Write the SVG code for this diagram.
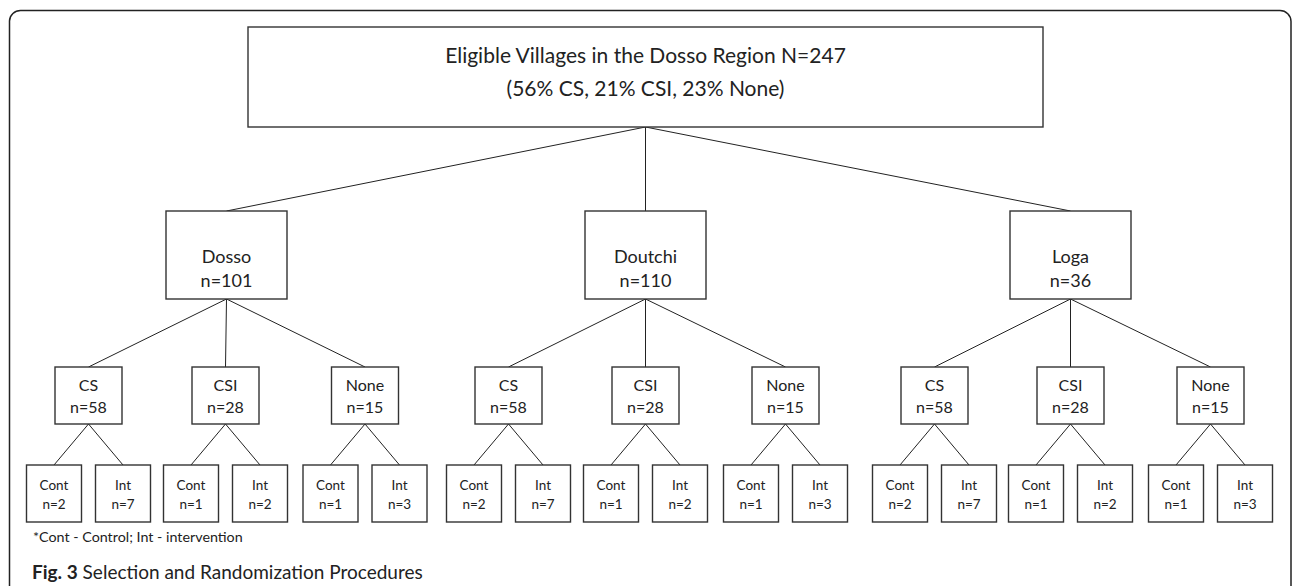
<svg xmlns="http://www.w3.org/2000/svg" width="1292" height="586" viewBox="0 0 1292 586">
<style>
.box{fill:#fff;stroke:#333;stroke-width:1.4}
.ln{stroke:#222;stroke-width:1;fill:none}
text{font-family:Lato,"Liberation Sans",sans-serif;fill:#222;text-anchor:middle}
.t1{font-size:21px}
.t2{font-size:18px}
.t3{font-size:16px}
.t4{font-size:13.5px}
</style>
<rect width="1292" height="586" fill="#fff"/>
<path d="M9.5,586 V21 A11,11 0 0 1 20.5,10.5 H1280 A11,11 0 0 1 1291,21.5 V586" fill="none" stroke="#222" stroke-width="1.5"/>
<g id="connectors" class="ln">
<path d="M645.5,127 L226.5,211 M645.5,127 L645.5,211 M645.5,127 L1070.5,211"/>
<path d="M226.5,299 L88.5,367 M226.5,299 L225.5,367 M226.5,299 L365,367"/>
<path d="M645.5,299 L508.5,367 M645.5,299 L645.5,367 M645.5,299 L785.5,367"/>
<path d="M1070.5,299 L934.5,367 M1070.5,299 L1070.5,367 M1070.5,299 L1210.5,367"/>
<path d="M88.5,424 L54,465 M88.5,424 L123,465 M225.5,424 L191,465 M225.5,424 L260,465 M365,424 L330.5,465 M365,424 L399.5,465"/>
<path d="M508.5,424 L474,465 M508.5,424 L543,465 M645.5,424 L611,465 M645.5,424 L680,465 M785.5,424 L751,465 M785.5,424 L820,465"/>
<path d="M934.5,424 L900,465 M934.5,424 L969,465 M1070.5,424 L1036,465 M1070.5,424 L1105,465 M1210.5,424 L1176,465 M1210.5,424 L1245,465"/>
</g>
<g id="root"><rect class="box" x="248" y="27" width="795" height="100"/>
<text class="t1" x="645.5" y="63">Eligible Villages in the Dosso Region N=247</text>
<text class="t1" x="645.5" y="96">(56% CS, 21% CSI, 23% None)</text></g>
<g id="dosso"><rect class="box" x="166" y="211" width="121" height="88"/><text class="t2" x="226.5" y="263">Dosso</text><text class="t2" x="226.5" y="287">n=101</text></g>
<g id="doutchi"><rect class="box" x="585" y="211" width="121" height="88"/><text class="t2" x="645.5" y="263">Doutchi</text><text class="t2" x="645.5" y="287">n=110</text></g>
<g id="loga"><rect class="box" x="1010" y="211" width="121" height="88"/><text class="t2" x="1070.5" y="263">Loga</text><text class="t2" x="1070.5" y="287">n=36</text></g>

<g id="dosso-cs"><rect class="box" x="55" y="367" width="67" height="57"/><text class="t3" x="88.5" y="391">CS</text><text class="t3" x="88.5" y="413">n=58</text></g>
<g id="dosso-csi"><rect class="box" x="192" y="367" width="67" height="57"/><text class="t3" x="225.5" y="391">CSI</text><text class="t3" x="225.5" y="413">n=28</text></g>
<g id="dosso-none"><rect class="box" x="331.5" y="367" width="67" height="57"/><text class="t3" x="365" y="391">None</text><text class="t3" x="365" y="413">n=15</text></g>
<g id="doutchi-cs"><rect class="box" x="475" y="367" width="67" height="57"/><text class="t3" x="508.5" y="391">CS</text><text class="t3" x="508.5" y="413">n=58</text></g>
<g id="doutchi-csi"><rect class="box" x="612" y="367" width="67" height="57"/><text class="t3" x="645.5" y="391">CSI</text><text class="t3" x="645.5" y="413">n=28</text></g>
<g id="doutchi-none"><rect class="box" x="752" y="367" width="67" height="57"/><text class="t3" x="785.5" y="391">None</text><text class="t3" x="785.5" y="413">n=15</text></g>
<g id="loga-cs"><rect class="box" x="901" y="367" width="67" height="57"/><text class="t3" x="934.5" y="391">CS</text><text class="t3" x="934.5" y="413">n=58</text></g>
<g id="loga-csi"><rect class="box" x="1037" y="367" width="67" height="57"/><text class="t3" x="1070.5" y="391">CSI</text><text class="t3" x="1070.5" y="413">n=28</text></g>
<g id="loga-none"><rect class="box" x="1177" y="367" width="67" height="57"/><text class="t3" x="1210.5" y="391">None</text><text class="t3" x="1210.5" y="413">n=15</text></g>

<g id="dosso-cs-cont"><rect class="box" x="26.5" y="465" width="55" height="57"/><text class="t4" x="54" y="490">Cont</text><text class="t4" x="54" y="509">n=2</text></g>
<g id="dosso-cs-int"><rect class="box" x="95.5" y="465" width="55" height="57"/><text class="t4" x="123" y="490">Int</text><text class="t4" x="123" y="509">n=7</text></g>
<g id="dosso-csi-cont"><rect class="box" x="163.5" y="465" width="55" height="57"/><text class="t4" x="191" y="490">Cont</text><text class="t4" x="191" y="509">n=1</text></g>
<g id="dosso-csi-int"><rect class="box" x="232.5" y="465" width="55" height="57"/><text class="t4" x="260" y="490">Int</text><text class="t4" x="260" y="509">n=2</text></g>
<g id="dosso-none-cont"><rect class="box" x="303" y="465" width="55" height="57"/><text class="t4" x="330.5" y="490">Cont</text><text class="t4" x="330.5" y="509">n=1</text></g>
<g id="dosso-none-int"><rect class="box" x="372" y="465" width="55" height="57"/><text class="t4" x="399.5" y="490">Int</text><text class="t4" x="399.5" y="509">n=3</text></g>

<g id="doutchi-cs-cont"><rect class="box" x="446.5" y="465" width="55" height="57"/><text class="t4" x="474" y="490">Cont</text><text class="t4" x="474" y="509">n=2</text></g>
<g id="doutchi-cs-int"><rect class="box" x="515.5" y="465" width="55" height="57"/><text class="t4" x="543" y="490">Int</text><text class="t4" x="543" y="509">n=7</text></g>
<g id="doutchi-csi-cont"><rect class="box" x="583.5" y="465" width="55" height="57"/><text class="t4" x="611" y="490">Cont</text><text class="t4" x="611" y="509">n=1</text></g>
<g id="doutchi-csi-int"><rect class="box" x="652.5" y="465" width="55" height="57"/><text class="t4" x="680" y="490">Int</text><text class="t4" x="680" y="509">n=2</text></g>
<g id="doutchi-none-cont"><rect class="box" x="723.5" y="465" width="55" height="57"/><text class="t4" x="751" y="490">Cont</text><text class="t4" x="751" y="509">n=1</text></g>
<g id="doutchi-none-int"><rect class="box" x="792.5" y="465" width="55" height="57"/><text class="t4" x="820" y="490">Int</text><text class="t4" x="820" y="509">n=3</text></g>

<g id="loga-cs-cont"><rect class="box" x="872.5" y="465" width="55" height="57"/><text class="t4" x="900" y="490">Cont</text><text class="t4" x="900" y="509">n=2</text></g>
<g id="loga-cs-int"><rect class="box" x="941.5" y="465" width="55" height="57"/><text class="t4" x="969" y="490">Int</text><text class="t4" x="969" y="509">n=7</text></g>
<g id="loga-csi-cont"><rect class="box" x="1008.5" y="465" width="55" height="57"/><text class="t4" x="1036" y="490">Cont</text><text class="t4" x="1036" y="509">n=1</text></g>
<g id="loga-csi-int"><rect class="box" x="1077.5" y="465" width="55" height="57"/><text class="t4" x="1105" y="490">Int</text><text class="t4" x="1105" y="509">n=2</text></g>
<g id="loga-none-cont"><rect class="box" x="1148.5" y="465" width="55" height="57"/><text class="t4" x="1176" y="490">Cont</text><text class="t4" x="1176" y="509">n=1</text></g>
<g id="loga-none-int"><rect class="box" x="1217.5" y="465" width="55" height="57"/><text class="t4" x="1245" y="490">Int</text><text class="t4" x="1245" y="509">n=3</text></g>

<text x="33" y="542" style="font-size:14.3px;text-anchor:start">*Cont - Control; Int - intervention</text>
<text x="32" y="579" style="font-size:19px;text-anchor:start"><tspan font-weight="bold">Fig. 3</tspan> Selection and Randomization Procedures</text>
</svg>
